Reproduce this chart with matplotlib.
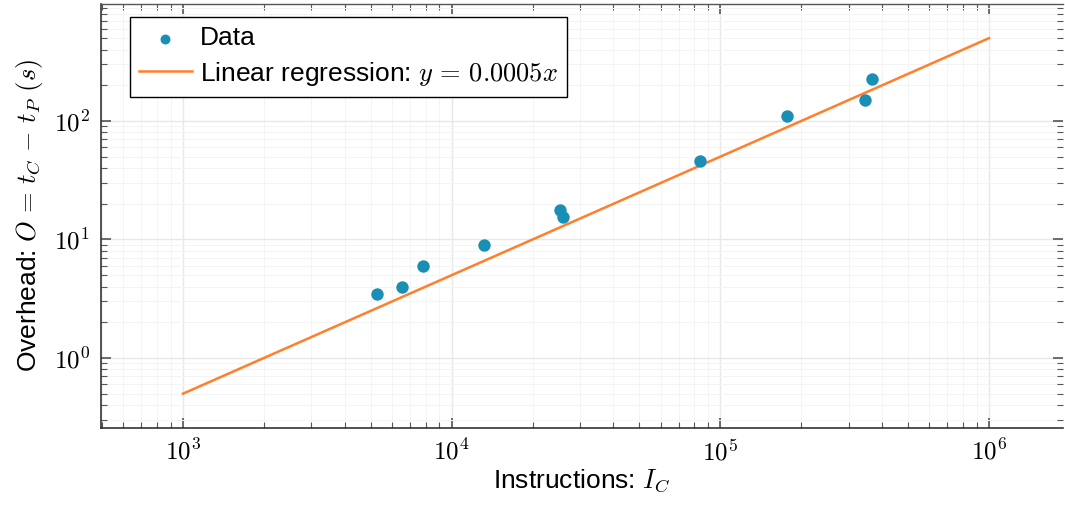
import numpy as np
import matplotlib
matplotlib.use("Agg")
import matplotlib.pyplot as plt
from matplotlib.ticker import LogLocator, NullFormatter, FuncFormatter

# measured data (instructions, overhead in s)
instructions = [5270, 6530, 7820, 13200, 25300, 25900, 84000, 177000, 345000, 367000]
overhead = [3.47, 3.97, 5.98, 8.99, 17.7, 15.5, 46, 111, 150, 226]

# regression line y = 0.0005 x
slope = 0.0005
fit_x = [1e3, 1e6]

plt.rcParams["font.family"] = ["Liberation Sans", "DejaVu Sans"]
plt.rcParams["mathtext.fontset"] = "cm"

fig = plt.figure(figsize=(10.65, 5.07), dpi=100)
ax = fig.add_axes([0.0948, 0.156, 0.903, 0.836])

fit_y = [slope * v for v in fit_x]
ax.plot(fit_x, fit_y, color="#ff7f2a", lw=1.8, label=r"Linear regression: $y \,=\, 0.0005x$", zorder=3)
ax.scatter(instructions, overhead, s=80, color="#1a8fb5", label="Data", zorder=4, linewidths=0)

ax.set_xscale("log")
ax.set_yscale("log")
ax.set_xlim(495, 1.88e6)
ax.set_ylim(0.257, 970)

pow_fmt = FuncFormatter(lambda v, p: r"$10^{%d}$" % round(np.log10(v)))
ax.xaxis.set_major_locator(LogLocator(base=10, numticks=10))
ax.yaxis.set_major_locator(LogLocator(base=10, numticks=10))
ax.xaxis.set_major_formatter(pow_fmt)
ax.yaxis.set_major_formatter(pow_fmt)
ax.xaxis.set_minor_locator(LogLocator(base=10, subs=np.arange(2, 10), numticks=20))
ax.yaxis.set_minor_locator(LogLocator(base=10, subs=np.arange(2, 10), numticks=20))
ax.xaxis.set_minor_formatter(NullFormatter())
ax.yaxis.set_minor_formatter(NullFormatter())

ax.tick_params(which="both", direction="in", top=True, right=True, colors="#555555", labelcolor="black")
ax.tick_params(which="major", length=7, width=1.2, labelsize=18, pad=8)
ax.tick_params(which="minor", length=4, width=0.8)

ax.grid(True, which="major", color="#e8e8e8", lw=1.0)
ax.grid(True, which="minor", color="#f4f4f4", lw=0.7)
ax.set_axisbelow(True)

for side in ["left", "bottom"]:
    ax.spines[side].set_color("#333333")
    ax.spines[side].set_linewidth(1.2)
ax.spines["top"].set_color("#555555")
ax.spines["top"].set_linewidth(1.0)
ax.spines["right"].set_visible(False)

ax.set_xlabel(r"Instructions: $I_C$", fontsize=19, labelpad=2)
ax.set_ylabel(r"Overhead: $O \,=\, t_C \,-\, t_P\ (s)$", fontsize=19, labelpad=6)

handles, labels = ax.get_legend_handles_labels()
leg = ax.legend(handles[::-1], labels[::-1], loc="upper left", fontsize=19,
                fancybox=False, framealpha=1, edgecolor="black",
                borderpad=0.35, borderaxespad=0, handlelength=2.0, handletextpad=0.3,
                labelspacing=0.35, markerscale=0.8,
                bbox_to_anchor=(0.030, 0.969))
leg.get_frame().set_linewidth(1.0)

fig.savefig("out.png", dpi=100)
